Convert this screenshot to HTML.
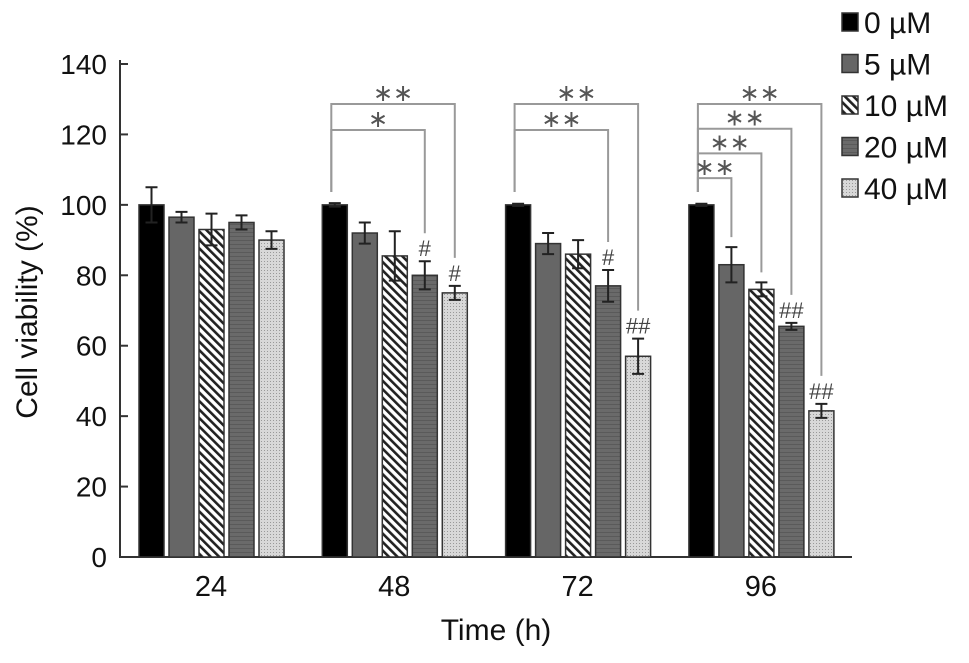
<!DOCTYPE html>
<html><head><meta charset="utf-8"><style>
body{margin:0;background:#fff;}
svg text{font-family:"Liberation Sans",Arial,sans-serif;}
</style></head><body>
<svg id="chart" width="969" height="658" viewBox="0 0 969 658" xmlns="http://www.w3.org/2000/svg">
<defs>
<pattern id="p-diag" patternUnits="userSpaceOnUse" width="6" height="6" patternTransform="rotate(-45)">
<rect width="6" height="6" fill="#fff"/><rect width="2.6" height="6" fill="#222"/>
</pattern>
<pattern id="p-dot" patternUnits="userSpaceOnUse" width="3" height="3">
<rect width="3" height="3" fill="#d8d8d8"/><rect width="1" height="1" fill="#999"/>
</pattern>
<pattern id="p-grid" patternUnits="userSpaceOnUse" width="4" height="4">
<rect width="4" height="4" fill="#6a6a6a"/><rect width="4" height="1" fill="#5a5a5a"/>
</pattern>
</defs>
<g id="plot"></g>
</svg>
<script>
const timepoints = ["24","48","72","96"];
const seriesNames = ["0 µM","5 µM","10 µM","20 µM","40 µM"];
const s0 = [100,100,100,100];
const s5 = [96.5,92,89,83];
const s10 = [93,85.5,86,76];
const s20 = [95,80,77,65.5];
const s40 = [90,75,57,41.5];
const e0 = [5,0.5,0.3,0.3];
const e5 = [1.5,3,3,5];
const e10 = [4.5,7,4,2];
const e20 = [2,4,4.5,1];
const e40 = [2.5,2,5,2];
const yTicks = [0,20,40,60,80,100,120,140];
const hashLabels = [["","","","",""],["","","","#","#"],["","","","#","##"],["","","","##","##"]];
// significance brackets: [group, targetSeries, label]
const brackets = [[1,4,"**"],[1,3,"*"],[2,4,"**"],[2,3,"**"],[3,4,"**"],[3,3,"**"],[3,2,"**"],[3,1,"**"]];

const NS="http://www.w3.org/2000/svg";
const g=document.getElementById('plot');
const fills=["#000","#666","url(#p-diag)","url(#p-grid)","url(#p-dot)"];
const vals=[s0,s5,s10,s20,s40], errs=[e0,e5,e10,e20,e40];
function y(v){return 557-v*(493/140);}
function groupX(i){return 139+i*183.3;}
function barX(i,s){return groupX(i)+s*30;}
const BW=25;
function el(t,a){const e=document.createElementNS(NS,t);for(const k in a)e.setAttribute(k,a[k]);g.appendChild(e);return e;}
let ax=el('line',{x1:120,y1:60,x2:120,y2:558,stroke:'#333','stroke-width':2});


let bx=el('line',{x1:119,y1:557,x2:852,y2:557,stroke:'#333','stroke-width':2});


yTicks.forEach(t=>{
  let l=el('line',{x1:120,y1:y(t),x2:128,y2:y(t),stroke:'#333','stroke-width':2});
  
  
  let tx=el('text',{x:107,y:y(t)+10,'text-anchor':'end','font-size':28,fill:'#111'});
  tx.textContent=t;
  
  
});
timepoints.forEach((t,i)=>{
  let tx=el('text',{x:groupX(i)+72,y:596,'text-anchor':'middle','font-size':29,fill:'#111'});
  tx.textContent=t;
  
  
});
let xt=el('text',{x:496,y:640,'text-anchor':'middle','font-size':30,fill:'#111'});
xt.textContent='Time (h)';


let yt=el('text',{x:0,y:0,'text-anchor':'middle','font-size':30,fill:'#111',transform:'translate(37,312) rotate(-90)'});
yt.textContent='Cell viability (%)';


timepoints.forEach((t,i)=>{
  for(let s=0;s<5;s++){
    const v=vals[s][i],e=errs[s][i],x=barX(i,s);
    let r=el('rect',{x:x,y:y(v),width:BW,height:557-y(v),fill:fills[s],stroke:'#333','stroke-width':1.5});
    
    
    const cx=x+BW/2;
    let eb=el('path',{d:`M${cx} ${y(v+e)}V${y(v-e)}M${cx-6} ${y(v+e)}H${cx+6}M${cx-6} ${y(v-e)}H${cx+6}`,stroke:'#222','stroke-width':2,fill:'none'});
    
    
    if(hashLabels[i][s]){
      let h=el('text',{x:cx,y:y(v+e)-5,'text-anchor':'middle','font-size':22,fill:'#444'});
      h.textContent=hashLabels[i][s];
      
      
    }
  }
});
const levelCount={};
brackets.forEach(b=>{
  const [i,s,lab]=b;
  levelCount[i]=(levelCount[i]||0);
  const k=levelCount[i]++;
  const by=104+k*(i===3?24.7:26);
  const x0=barX(i,0)+9, x1=barX(i,s)+BW/2;
  const endY=y(vals[s][i]+errs[s][i])-(hashLabels[i][s]?28:10);
  let p=el('path',{d:`M${x0} 192V${by}H${x1}V${endY}`,stroke:'#999','stroke-width':2,fill:'none'});
  
  
  let st=el('text',{x:(x0+x1)/2,y:by-3,'text-anchor':'middle','font-size':24,fill:'#555'});
  st.textContent=lab.replace(/\*/g,'∗');
  
  
});
seriesNames.forEach((n,s)=>{
  const ly=22+s*41.5;
  let r=el('rect',{x:842,y:ly-9,width:16,height:18,fill:fills[s],stroke:'#333','stroke-width':1.5});
  
  
  let t=el('text',{x:864,y:ly+11,'font-size':30,fill:'#111'});
  t.textContent=n;
  
  
});
</script>
</body></html>
